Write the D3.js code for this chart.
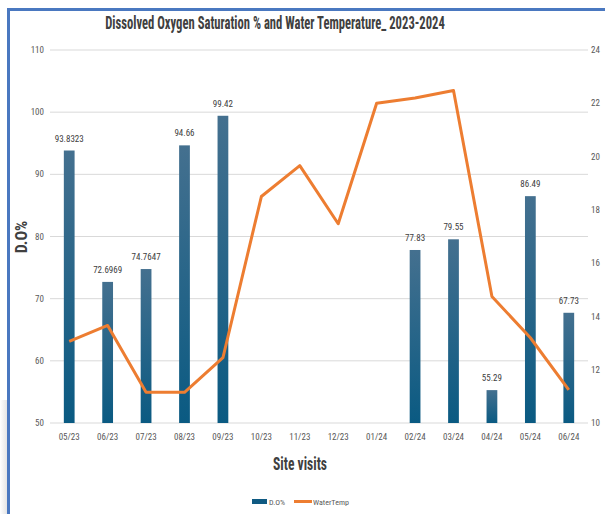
<!DOCTYPE html>
<html><head><meta charset="utf-8">
<script src="https://cdn.jsdelivr.net/npm/d3@7"></script>
<style>
body{margin:0;background:#fff;}
svg{display:block;}
text{font-family:"Liberation Sans Narrow","Roboto Condensed","DejaVu Sans Condensed",Arial,sans-serif;}
</style></head><body>
<svg id="c" width="605" height="514"></svg>
<script>
const categories = ["05/23","06/23","07/23","08/23","09/23","10/23","11/23","12/23","01/24","02/24","03/24","04/24","05/24","06/24"];
const doValues = [93.8323,72.6969,74.7647,94.66,99.42,null,null,null,null,77.83,79.55,55.29,86.49,67.73];
const doLabels = ["93.8323","72.6969","74.7647","94.66","99.42","","","","","77.83","79.55","55.29","86.49","67.73"];
const tempValues = [13.06,13.66,11.15,11.15,12.45,18.5,19.66,17.48,22.0,22.2,22.48,14.75,13.2,11.24];
const leftTicks = [50,60,70,80,90,100,110];
const rightTicks = [10,12,14,16,18,20,22,24];

const svg = d3.select("#c");
const defs = svg.append("defs");
const g = defs.append("linearGradient").attr("id","barGrad").attr("x1",0).attr("y1",0).attr("x2",0).attr("y2",1);
g.append("stop").attr("offset","0%").attr("stop-color","#44708f");
g.append("stop").attr("offset","100%").attr("stop-color","#0a5a82");
const sh = defs.append("linearGradient").attr("id","shadow").attr("x1",0).attr("y1",0).attr("x2",1).attr("y2",0);
sh.append("stop").attr("offset","0%").attr("stop-color","#ffffff");
sh.append("stop").attr("offset","100%").attr("stop-color","#e4e4e4");

// left shadow
svg.append("rect").attr("x",0).attr("y",400).attr("width",7).attr("height",114).attr("fill","url(#shadow)");
// frame
svg.append("rect").attr("x",8.5).attr("y",9.5).attr("width",620).attr("height",520)
  .attr("fill","none").attr("stroke","#4a78c0").attr("stroke-width",3);

const L=50, R=588, T=50, B=423;
const x = d3.scaleBand().domain(categories).range([L,R]).paddingInner(0.72).paddingOuter(0.36);
const yL = d3.scaleLinear().domain([50,110]).range([B,T]);
const yR = d3.scaleLinear().domain([10,24]).range([B,T]);

// gridlines
svg.append("g").selectAll("line").data(leftTicks).join("line")
  .attr("x1",L).attr("x2",R).attr("y1",d=>yL(d)).attr("y2",d=>yL(d))
  .attr("stroke","#d9d9d9").attr("stroke-width",1);

// left axis labels
svg.append("g").selectAll("text").data(leftTicks).join("text")
  .attr("x",44).attr("y",d=>yL(d)).attr("dy","0.35em").attr("text-anchor","end")
  .attr("font-size",9).attr("fill","#595959").text(d=>d);
// right axis labels
svg.append("g").selectAll("text").data(rightTicks).join("text")
  .attr("x",591).attr("y",d=>yR(d)).attr("dy","0.35em").attr("text-anchor","start")
  .attr("font-size",9).attr("fill","#595959").text(d=>d);

// x labels
svg.append("g").selectAll("text").data(categories).join("text")
  .attr("x",d=>x(d)+x.bandwidth()/2).attr("y",440).attr("text-anchor","middle")
  .attr("font-size",9).attr("fill","#595959").text(d=>d);

// bars
const bd = categories.map((c,i)=>({c, v:doValues[i], lab:doLabels[i]})).filter(d=>d.v!==null);
svg.append("g").selectAll("rect").data(bd).join("rect")
  .attr("x",d=>x(d.c)).attr("width",x.bandwidth())
  .attr("y",d=>yL(d.v)).attr("height",d=>B-yL(d.v))
  .attr("fill","url(#barGrad)");
svg.append("g").selectAll("text").data(bd).join("text")
  .attr("x",d=>x(d.c)+x.bandwidth()/2).attr("y",d=>yL(d.v)-9)
  .attr("text-anchor","middle").attr("font-size",9).attr("fill","#404040").text(d=>d.lab);

// line
const line = d3.line().x((d,i)=>x(categories[i])+x.bandwidth()/2).y(d=>yR(d));
svg.append("path").datum(tempValues).attr("d",line)
  .attr("fill","none").attr("stroke","#ed7d31").attr("stroke-width",3).attr("stroke-linejoin","round");

// fitted text helper: scales horizontally to the target width
function fitted(cx, cy, size, width, str){
  const grp = svg.append("g").attr("transform",`translate(${cx},${cy})`);
  const t = grp.append("text").attr("text-anchor","middle")
    .attr("font-size",size).attr("font-weight","bold").attr("fill","#404040").text(str);
  const len = t.node().getComputedTextLength();
  t.attr("transform",`scale(${width/len},1)`);
  return t;
}
fitted(275, 29, 19, 340, "Dissolved Oxygen Saturation % and Water Temperature_ 2023-2024");
fitted(300, 470, 18, 54, "Site visits");

// axis title
svg.append("text").attr("transform","translate(27,237) rotate(-90)").attr("text-anchor","middle")
  .attr("font-size",16).attr("font-weight","bold").attr("fill","#404040").text("D.O%");

// legend
const lg = svg.append("g");
lg.append("rect").attr("x",252).attr("y",499).attr("width",15).attr("height",5).attr("fill","#0f5a82");
lg.append("text").attr("x",269).attr("y",505).attr("font-size",8).attr("fill","#595959").text("D.O%");
lg.append("rect").attr("x",294).attr("y",500).attr("width",18).attr("height",3).attr("fill","#ed7d31");
lg.append("text").attr("x",313).attr("y",505).attr("font-size",8).attr("fill","#595959").text("WaterTemp");
</script>
</body></html>
